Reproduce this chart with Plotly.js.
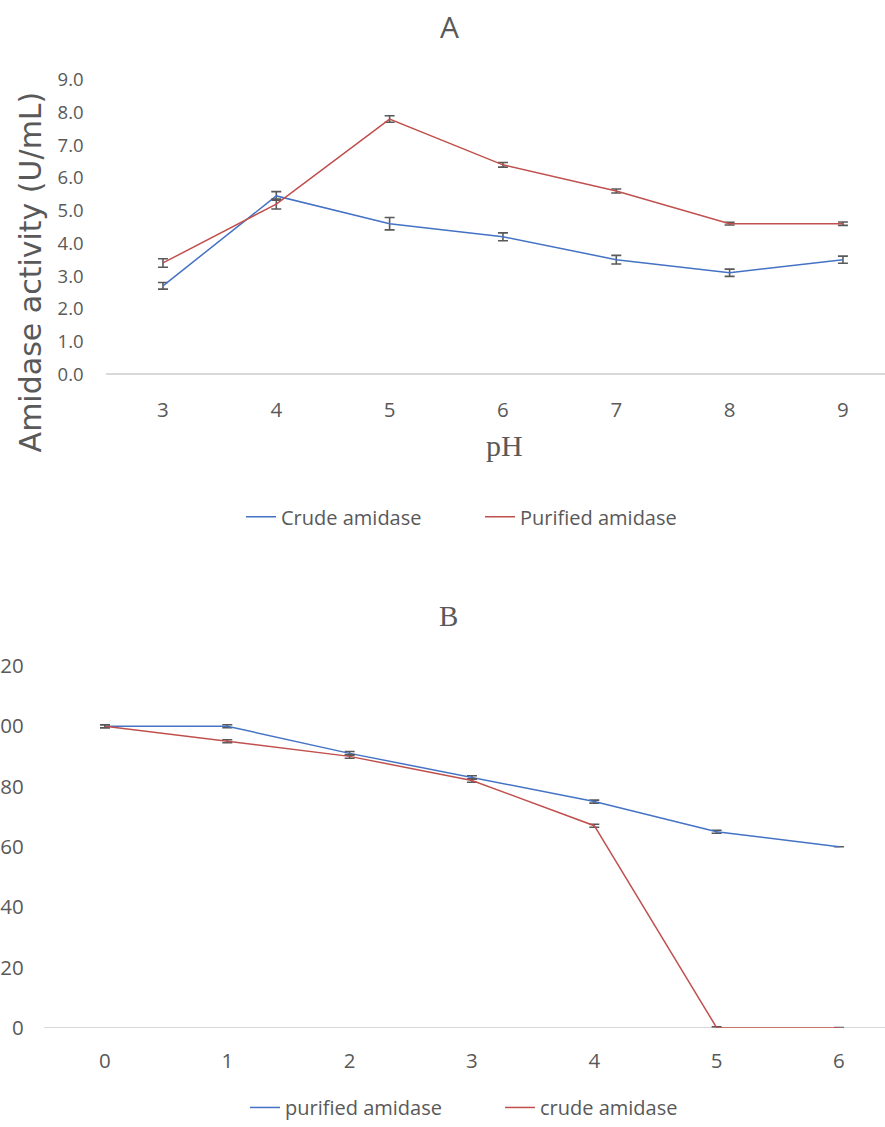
<!DOCTYPE html>
<html>
<head>
<meta charset="utf-8">
<script src="https://cdn.plot.ly/plotly-3.0.1.min.js"></script>
<style>
html,body{margin:0;padding:0;background:#fff;overflow:hidden;width:885px;height:1127px;}
#chart{position:absolute;left:0;top:0;width:885px;height:1127px;overflow:hidden;}
</style>
</head>
<body>
<div id="chart"></div>
<script>
// Chart A: pH effect
const phValues = [3, 4, 5, 6, 7, 8, 9];
const crudeActivity = [2.7, 5.45, 4.6, 4.2, 3.5, 3.1, 3.5];
const crudeError = [0.1, 0.13, 0.19, 0.12, 0.13, 0.11, 0.11];
const purifiedActivity = [3.4, 5.2, 7.8, 6.4, 5.6, 4.6, 4.6];
const purifiedError = [0.13, 0.15, 0.1, 0.07, 0.06, 0.04, 0.05];
const yTicksA = [0, 1, 2, 3, 4, 5, 6, 7, 8, 9];

// Chart B: stability over time
const timePoints = [0, 1, 2, 3, 4, 5, 6];
const purifiedStability = [100, 100, 91, 83, 75, 65, 60];
const purifiedStabError = [0.5, 0.5, 0.6, 0.6, 0.5, 0.5, 0];
const crudeStability = [100, 95, 90, 82, 67, 0, 0];
const crudeStabError = [0.5, 0.5, 0.6, 0.6, 0.5, 0.3, 0];
const yTicksB = [0, 20, 40, 60, 80, 100, 120];

const W = 885, H = 1127;
const SY = 1.013; // vertical correction observed in rendering
const BLUE = '#4472C4', RED = '#C0504D', GRAY = '#595959';
const SANS = '"Open Sans", Lato, sans-serif';
const SERIF = '"Liberation Serif", "DejaVu Serif", serif';
const px = v => v / W;
const py = v => (H - v * SY) / H;

function errBar(arr) {
  return {type: 'data', array: arr, visible: true, color: GRAY, thickness: 1.6, width: 5};
}

const traces = [
  {x: phValues, y: crudeActivity, type: 'scatter', mode: 'lines', name: 'Crude amidase',
   line: {color: BLUE, width: 1.5}, error_y: errBar(crudeError), xaxis: 'x', yaxis: 'y', legend: 'legend'},
  {x: phValues, y: purifiedActivity, type: 'scatter', mode: 'lines', name: 'Purified amidase',
   line: {color: RED, width: 1.5}, error_y: errBar(purifiedError), xaxis: 'x', yaxis: 'y', legend: 'legend'},
  {x: timePoints, y: purifiedStability, type: 'scatter', mode: 'lines', name: 'purified amidase',
   line: {color: BLUE, width: 1.5}, error_y: errBar(purifiedStabError), xaxis: 'x2', yaxis: 'y2', legend: 'legend2'},
  {x: timePoints, y: crudeStability, type: 'scatter', mode: 'lines', name: 'crude amidase',
   line: {color: RED, width: 1.5}, error_y: errBar(crudeStabError), xaxis: 'x2', yaxis: 'y2', legend: 'legend2'}
];

// pixel geometry (matched to reference)
const aLeft = 106.3, aStep = 113.33, aZeroY = 375, aPerUnit = 32.78, aTop = 70;
const bLeft = 43.8, bStep = 122.33, bZeroY = 1030, bPerUnit = 3.021, bTop = 655;

const layout = {
  width: W, height: H,
  margin: {l: 0, r: 0, t: 0, b: 0, pad: 0},
  paper_bgcolor: '#fff', plot_bgcolor: '#fff',
  showlegend: true,
  xaxis: {
    domain: [px(aLeft), 1],
    range: [2.5, 2.5 + (W - aLeft) / aStep],
    tickvals: phValues, ticktext: phValues.map(String),
    showgrid: false, zeroline: false, showline: false,
    ticks: 'outside', ticklen: 17, tickcolor: 'rgba(0,0,0,0)',
    tickfont: {family: SANS, size: 20.5, color: GRAY}, anchor: 'y', fixedrange: true
  },
  yaxis: {
    domain: [py(aZeroY), py(aTop)],
    range: [0, (aZeroY - aTop) / aPerUnit],
    tickvals: yTicksA, ticktext: yTicksA.map(v => v.toFixed(1)),
    showgrid: false, zeroline: true, zerolinecolor: '#D9D9D9', zerolinewidth: 1.5,
    showline: false, ticks: 'outside', ticklen: 18, tickcolor: 'rgba(0,0,0,0)',
    tickfont: {family: SANS, size: 18.5, color: GRAY}, anchor: 'x', fixedrange: true
  },
  xaxis2: {
    domain: [px(bLeft), 1],
    range: [-0.5, -0.5 + (W - bLeft) / bStep],
    tickvals: timePoints, ticktext: timePoints.map(String),
    showgrid: false, zeroline: false, showline: false,
    ticks: 'outside', ticklen: 15, tickcolor: 'rgba(0,0,0,0)',
    tickfont: {family: SANS, size: 20.5, color: GRAY}, anchor: 'y2', fixedrange: true
  },
  yaxis2: {
    domain: [py(bZeroY), py(bTop)],
    range: [0, (bZeroY - bTop) / bPerUnit],
    tickvals: yTicksB, ticktext: yTicksB.map(String),
    showgrid: false, zeroline: true, zerolinecolor: '#D9D9D9', zerolinewidth: 1.5,
    showline: false, ticks: 'outside', ticklen: 15, tickcolor: 'rgba(0,0,0,0)',
    tickfont: {family: SANS, size: 20.5, color: GRAY}, anchor: 'x2', fixedrange: true
  },
  legend: {
    orientation: 'h', x: px(241), y: py(518), xanchor: 'left', yanchor: 'middle',
    entrywidth: 194, entrywidthmode: 'pixels',
    font: {family: SANS, size: 20, color: GRAY},
    bgcolor: 'rgba(0,0,0,0)'
  },
  legend2: {
    orientation: 'h', x: px(245), y: py(1110), xanchor: 'left', yanchor: 'middle',
    entrywidth: 210, entrywidthmode: 'pixels',
    font: {family: SANS, size: 20, color: GRAY},
    bgcolor: 'rgba(0,0,0,0)'
  },
  annotations: [
    {text: 'A', xref: 'paper', yref: 'paper', x: px(449), y: py(27), showarrow: false,
     xanchor: 'center', yanchor: 'middle', font: {family: SANS, size: 30, color: GRAY}},
    {text: 'pH', xref: 'paper', yref: 'paper', x: px(505), y: py(447), showarrow: false,
     xanchor: 'center', yanchor: 'middle', font: {family: SERIF, size: 30, color: GRAY}},
    {text: 'Amidase activity (U/mL)', xref: 'paper', yref: 'paper', x: px(30), y: py(273), showarrow: false,
     textangle: -90, xanchor: 'center', yanchor: 'middle',
     font: {family: '"DejaVu Sans", sans-serif', size: 30, color: GRAY}},
    {text: 'B', xref: 'paper', yref: 'paper', x: px(448), y: py(617), showarrow: false,
     xanchor: 'center', yanchor: 'middle', font: {family: SERIF, size: 29, color: GRAY}}
  ]
};

Plotly.newPlot('chart', traces, layout, {displayModeBar: false, staticPlot: true});
</script>
</body>
</html>
